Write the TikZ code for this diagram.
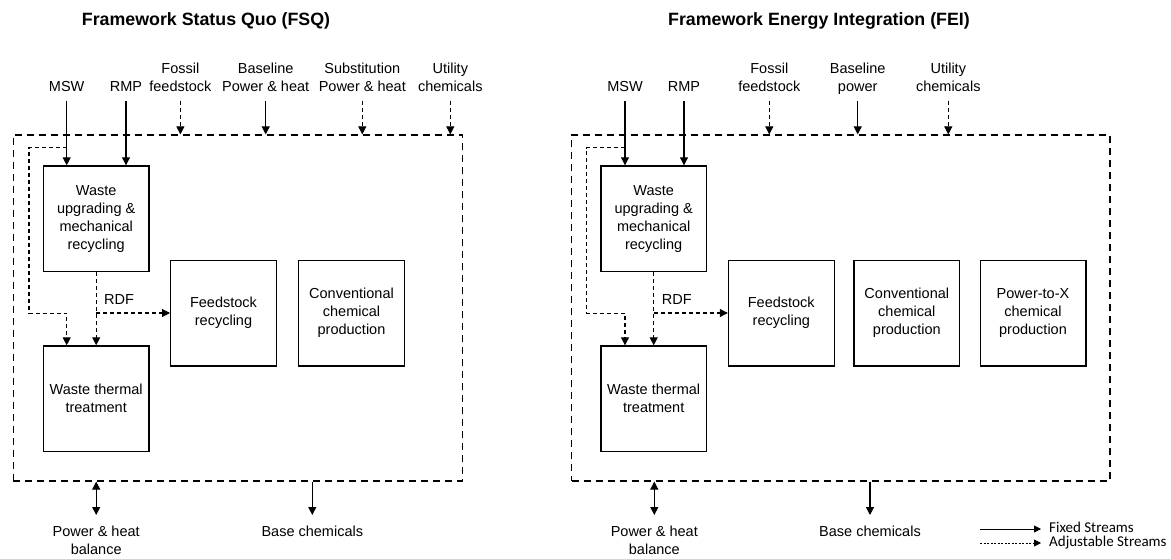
\documentclass[tikz,border=0pt]{standalone}
\usepackage{fontspec}
\usetikzlibrary{arrows.meta}
\newfontfamily\arialfam{Liberation Sans}
\newfontfamily\califam{Carlito}
\newcommand\mylbl{\arialfam\fontsize{14.5}{18}\selectfont}
\newcommand\myttl{\arialfam\bfseries\fontsize{17.8}{21}\selectfont}
\newcommand\myleg{\califam\fontsize{15}{18}\selectfont}
\tikzset{
  box/.style={draw, line width=1.3pt, minimum width=105.7pt, minimum height=105.7pt,
    align=center, inner sep=0pt, font=\mylbl},
  frame/.style={draw, line width=1.2pt, dash pattern=on 7pt off 5pt,
    inner sep=0pt},
  toplbl/.style={anchor=south, align=center, inner sep=0pt, text depth=0pt, font=\mylbl},
  botlbl/.style={anchor=north, align=center, inner sep=0pt, font=\mylbl},
  fixed/.style={line width=1.1pt, -{Triangle[length=8pt,width=8pt]}},
  adj/.style={fixed, dash pattern=on 4pt off 3pt},
  both/.style={line width=1.1pt, {Triangle[length=8pt,width=8pt]}-{Triangle[length=8pt,width=8pt]}},
  legfixed/.style={line width=0.8pt, -{Triangle[length=7pt,width=7pt]}},
  legadj/.style={legfixed, dash pattern=on 2pt off 1.5pt},
  legtxt/.style={anchor=west, inner sep=0pt, text height=10pt, text depth=3pt, font=\myleg},
  ttl/.style={inner sep=0pt, font=\myttl}
}
\begin{document}
\begin{tikzpicture}[x=1pt, y=-1pt]
\useasboundingbox (0,0) rectangle (1171,559);

% ---------- Titles ----------
\node[ttl] (tfsq) at (206,21) {Framework Status Quo (FSQ)};
\node[ttl] (tfei) at (819,21) {Framework Energy Integration (FEI)};

% ================= LEFT PANEL (FSQ) =================
\node[frame, minimum width=449.4pt, minimum height=346pt] (lframe) at (238,308) {};
\node[box] (lwu)   at (96.2,218.8) {Waste\\upgrading \&\\mechanical\\recycling};
\node[box] (lfr)   at (223.5,313)  {Feedstock\\recycling};
\node[box] (lccp)  at (351.5,313)  {Conventional\\chemical\\production};
\node[box] (lwtt)  at (96.2,398.8) {Waste thermal\\treatment};

\node[toplbl] (lmsw)  at (66.7,92)  {MSW};
\node[toplbl] (lrmp)  at (126,92)   {RMP};
\node[toplbl] (lfos)  at (180.4,92) {Fossil\\feedstock};
\node[toplbl] (lbase) at (265.7,92) {Baseline\\Power \& heat};
\node[toplbl] (lsub)  at (362.3,92) {Substitution\\Power \& heat};
\node[toplbl] (lutil) at (450.3,92) {Utility\\chemicals};

\draw[fixed, shorten <=9pt] (lmsw.south) -- (lmsw.south |- lwu.north);
\draw[fixed, shorten <=9pt] (lrmp.south) -- (lrmp.south |- lwu.north);
\draw[adj,   shorten <=9pt] (lfos.south) -- (lfos.south |- lframe.north);
\draw[fixed, shorten <=9pt] (lbase.south) -- (lbase.south |- lframe.north);
\draw[adj,   shorten <=9pt] (lsub.south) -- (lsub.south |- lframe.north);
\draw[adj,   shorten <=9pt] (lutil.south) -- (lutil.south |- lframe.north);

\coordinate (lbr) at (66.7,147.7);
\coordinate (lrx) at (29,313.3);
\draw[adj] (lbr) -| (lrx) -| (lbr |- lwtt.north);
\draw[adj] (lwu.south) -- (lwtt.north);
\draw[adj] (lwu.south |- lfr.west) -- (lfr.west);
\node[anchor=west, inner sep=0pt, font=\mylbl] (lrdf) at (104,300) {RDF};

\node[botlbl] (lpwr) at (96.2,526)  {Power \& heat\\balance};
\node[botlbl] (lbc)  at (312.3,526) {Base chemicals};
\draw[both, shorten >=11pt] (lpwr.north |- lframe.south) -- (lpwr.north);
\draw[fixed, shorten >=11pt] (lbc.north |- lframe.south) -- (lbc.north);

% ================= RIGHT PANEL (FEI) =================
\node[frame, minimum width=538.3pt, minimum height=346pt] (rframe) at (840.85,308) {};
\node[box] (rwu)   at (653.7,218.8) {Waste\\upgrading \&\\mechanical\\recycling};
\node[box] (rfr)   at (781.3,313)  {Feedstock\\recycling};
\node[box] (rccp)  at (906.8,313)  {Conventional\\chemical\\production};
\node[box] (rptx)  at (1033,313)   {Power-to-X\\chemical\\production};
\node[box] (rwtt)  at (653.7,398.8) {Waste thermal\\treatment};

\node[toplbl] (rmsw)  at (625,92)   {MSW};
\node[toplbl] (rrmp)  at (684,92)   {RMP};
\node[toplbl] (rfos)  at (769.3,92) {Fossil\\feedstock};
\node[toplbl] (rbase) at (857.7,92) {Baseline\\power};
\node[toplbl] (rutil) at (948.3,92) {Utility\\chemicals};

\draw[fixed, shorten <=9pt] (rmsw.south) -- (rmsw.south |- rwu.north);
\draw[fixed, shorten <=9pt] (rrmp.south) -- (rrmp.south |- rwu.north);
\draw[adj,   shorten <=9pt] (rfos.south) -- (rfos.south |- rframe.north);
\draw[fixed, shorten <=9pt] (rbase.south) -- (rbase.south |- rframe.north);
\draw[adj,   shorten <=9pt] (rutil.south) -- (rutil.south |- rframe.north);

\coordinate (rbr) at (625,147.7);
\coordinate (rrx) at (586.7,313.3);
\draw[adj] (rbr) -| (rrx) -| (rbr |- rwtt.north);
\draw[adj] (rwu.south) -- (rwtt.north);
\draw[adj] (rwu.south |- rfr.west) -- (rfr.west);
\node[anchor=west, inner sep=0pt, font=\mylbl] (rrdf) at (661.7,300) {RDF};

\node[botlbl] (rpwr) at (654.3,526) {Power \& heat\\balance};
\node[botlbl] (rbc)  at (870,526)   {Base chemicals};
\draw[both, shorten >=11pt] (rpwr.north |- rframe.south) -- (rpwr.north);
\draw[fixed, shorten >=11pt] (rbc.north |- rframe.south) -- (rbc.north);

% ---------- Legend ----------
\coordinate (lgf) at (980,529);
\coordinate (lga) at (980,543);
\node[legtxt] (lgft) at (1049,529) {Fixed Streams};
\node[legtxt] (lgat) at (1049,543) {Adjustable Streams};
\draw[legfixed, shorten >=8pt] (lgf) -- (lgft.west);
\draw[legadj, shorten >=8pt] (lga) -- (lgat.west);
\end{tikzpicture}
\end{document}
